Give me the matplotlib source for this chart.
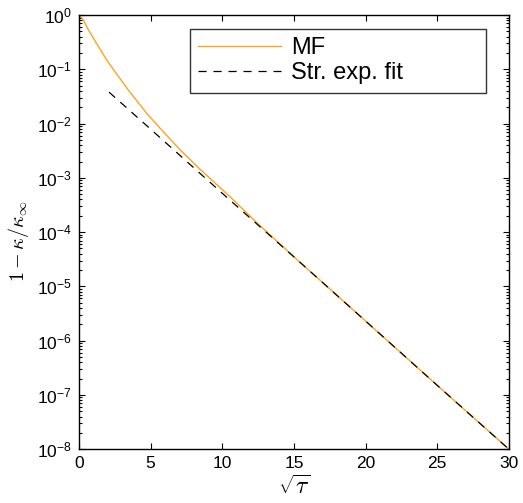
import numpy as np
import matplotlib
matplotlib.use("Agg")
import matplotlib.pyplot as plt
from matplotlib.ticker import LogLocator, FuncFormatter, NullFormatter

plt.rcParams['font.family'] = ['Liberation Sans', 'DejaVu Sans']
plt.rcParams['mathtext.fontset'] = 'cm'

# MF curve (x = sqrt(tau))
mf_x = [0.0, 0.3, 0.65, 1.23, 1.93, 2.4, 3.4, 4.72, 5.8, 7.05, 8.5, 10.54, 12.4, 15.0, 17.5, 20.0, 25.0, 30.0]
mf_y = [1.0, 0.82, 0.54, 0.30, 0.15, 0.10, 0.043, 0.0155, 0.0075, 0.0033, 0.0014, 4.5e-4, 1.5e-4,
        3.5e-5, 9.0e-6, 2.3e-6, 1.5e-7, 1.0e-8]

# stretched exponential fit
fit_x = [2.1, 5.0, 10.0, 15.0, 20.0, 25.0, 30.0]
fit_y = [0.038, 0.0079, 5.2e-4, 3.5e-5, 2.3e-6, 1.5e-7, 1.0e-8]

fig = plt.figure(figsize=(5.23, 5.03), dpi=100)
ax = fig.add_axes([0.151, 0.107, 0.822, 0.863])

ax.semilogy(mf_x, mf_y, color='#ffa31a', lw=1.0, label='MF')
ax.semilogy(fit_x, fit_y, color='black', lw=0.9, dashes=(6.5, 5.5), label='Str. exp. fit')

ax.set_xlim(0, 30)
ax.set_ylim(1e-8, 1e0)
ax.set_xticks([0, 5, 10, 15, 20, 25, 30])
ax.yaxis.set_major_locator(LogLocator(base=10, numticks=20))
ax.yaxis.set_minor_locator(LogLocator(base=10, subs=np.arange(2, 10), numticks=20))
ax.yaxis.set_major_formatter(FuncFormatter(lambda v, p: r'$\mathregular{10^{%d}}$' % round(np.log10(v))))
ax.yaxis.set_minor_formatter(NullFormatter())

ax.tick_params(which='both', direction='in', top=True, right=True, labelsize=12.5, width=0.8)
ax.tick_params(which='major', length=4.5, pad=5)
ax.tick_params(which='minor', length=2.2)
for s in ax.spines.values():
    s.set_linewidth(1.0)

ax.set_xlabel(r'$\sqrt{\tau}$', fontsize=17, labelpad=3)
ax.set_ylabel(r'$1-\kappa/\kappa_\infty$', fontsize=14.5)
ax.yaxis.set_label_coords(-0.112, 0.479)

leg = ax.legend(loc='upper left', bbox_to_anchor=(0.258, 0.969, 0.688, 0.0), mode='expand',
                borderaxespad=0, fontsize=17, handlelength=3.5, handletextpad=0.42,
                frameon=True, fancybox=False, edgecolor='black', borderpad=0.35,
                labelspacing=0.15)
leg.get_frame().set_linewidth(1.0)

fig.savefig('out.png', dpi=100)
